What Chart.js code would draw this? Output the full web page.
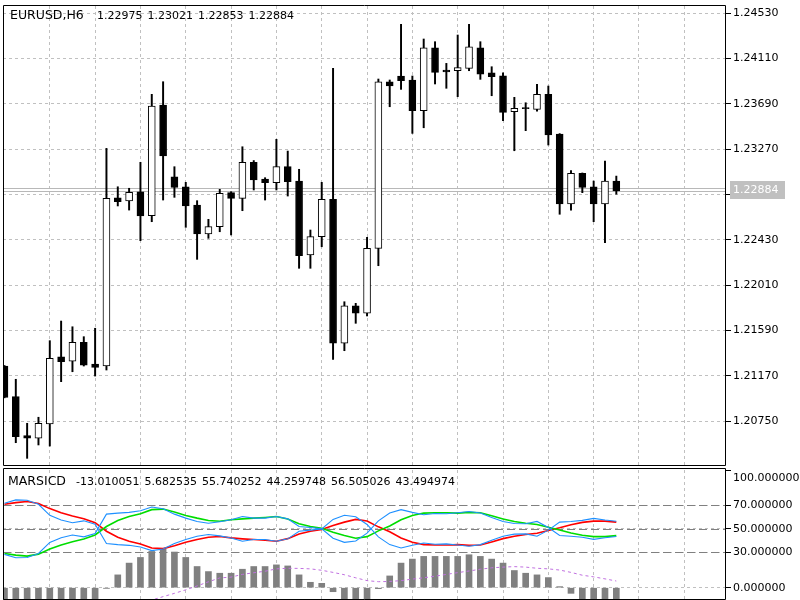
<!DOCTYPE html>
<html>
<head>
<meta charset="utf-8">
<script src="https://cdn.jsdelivr.net/npm/chart.js@4.4.0/dist/chart.umd.min.js"></script>
<style>
  html, body { margin: 0; padding: 0; background: #fff; }
  #wrap { position: relative; width: 800px; height: 600px; overflow: hidden; }
  #main { position: absolute; left: 0; top: 0; }
  #ind { position: absolute; left: 0; top: 466px; }
</style>
</head>
<body>
<div id="wrap">
  <canvas id="main" width="800" height="467" style="width:800px;height:467px"></canvas>
  <canvas id="ind" width="800" height="134" style="width:800px;height:134px"></canvas>
</div>
<script>
const symbolName = 'EURUSD,H6';
const candleOpen = [1.21260, 1.20976, 1.20614, 1.20590, 1.20722, 1.21346, 1.21306, 1.21480, 1.21279, 1.21260,
  1.22820, 1.22790, 1.22876, 1.22654, 1.23680, 1.23015, 1.22922, 1.22753, 1.22484, 1.22552,
  1.22867, 1.22815, 1.23149, 1.22994, 1.22960, 1.23108, 1.22975, 1.22289, 1.22459, 1.22806,
  1.21471, 1.21819, 1.21749, 1.22351, 1.23896, 1.23949, 1.23912, 1.23627, 1.24211, 1.24004,
  1.23998, 1.24020, 1.24211, 1.23979, 1.23951, 1.23618, 1.23649, 1.23640, 1.23779, 1.23411,
  1.22762, 1.23047, 1.22922, 1.22762, 1.22975];
const candleHigh = [1.21265, 1.21137, 1.20729, 1.20785, 1.21495, 1.21677, 1.21624, 1.21532, 1.21610, 1.23278,
  1.22922, 1.22908, 1.23149, 1.23779, 1.23896, 1.23108, 1.22963, 1.22793, 1.22620, 1.22898,
  1.22876, 1.23293, 1.23165, 1.23006, 1.23362, 1.23253, 1.23084, 1.22521, 1.22963, 1.24020,
  1.21856, 1.21841, 1.22453, 1.23921, 1.23912, 1.24428, 1.23949, 1.24292, 1.24267, 1.24066,
  1.24329, 1.24428, 1.24267, 1.24035, 1.23979, 1.23751, 1.23701, 1.23872, 1.23856, 1.23415,
  1.23071, 1.23050, 1.22975, 1.23161, 1.23021];
const candleLow = [1.20965, 1.20549, 1.20404, 1.20528, 1.20518, 1.21115, 1.21207, 1.21260, 1.21167, 1.21223,
  1.22744, 1.22706, 1.22422, 1.22598, 1.22799, 1.22824, 1.22546, 1.22249, 1.22444, 1.22505,
  1.22475, 1.22700, 1.22892, 1.22799, 1.22892, 1.22836, 1.22166, 1.22166, 1.22366, 1.21322,
  1.21402, 1.21656, 1.21724, 1.22190, 1.23664, 1.23825, 1.23417, 1.23469, 1.23875, 1.23835,
  1.23757, 1.23998, 1.23918, 1.23766, 1.23534, 1.23256, 1.23442, 1.23624, 1.23309, 1.22667,
  1.22706, 1.22867, 1.22598, 1.22403, 1.22853];
const candleClose = [1.20970, 1.20605, 1.20590, 1.20729, 1.21332, 1.21300, 1.21480, 1.21269, 1.21248, 1.22815,
  1.22783, 1.22871, 1.22651, 1.23671, 1.23207, 1.22917, 1.22744, 1.22484, 1.22552, 1.22861,
  1.22815, 1.23149, 1.22985, 1.22961, 1.23108, 1.22969, 1.22283, 1.22459, 1.22806, 1.21471,
  1.21819, 1.21749, 1.22351, 1.23896, 1.23856, 1.23905, 1.23627, 1.24211, 1.23983, 1.23986,
  1.24026, 1.24220, 1.23967, 1.23942, 1.23612, 1.23649, 1.23647, 1.23779, 1.23402, 1.22762,
  1.23047, 1.22917, 1.22762, 1.22975, 1.22884];
const priceTicks = [1.24530, 1.24110, 1.23690, 1.23270, 1.22850, 1.22430, 1.22010, 1.21590, 1.21170, 1.20750];

const indicatorName = 'MARSICD';
const indicatorReadout = [-13.010051, 5.682535, 55.740252, 44.259748, 56.505026, 43.494974];
const histValues = [-40, -43, -45, -42, -34, -27, -22, -17, -11.5, -0.6,
  10.9, 20.9, 25.7, 30.8, 32.9, 30.3, 25.7, 18, 13.7, 12.3,
  12.3, 15.7, 18, 18, 19.4, 18.5, 10.9, 4.6, 3.7, -3.4,
  -12, -15, -14, -0.8, 10, 20.9, 24.3, 26.6, 26.6, 26.6,
  26.6, 28, 26.6, 24.3, 20.9, 14.6, 12.3, 10.9, 8.6, 0.9,
  -4.8, -11, -12.5, -13.2, -13.01];
const signalValues = [-25, -28, -30, -32, -33, -33, -32, -31, -29, -26,
  -22, -18, -14, -10.5, -7.6, -4.8, -1.8, 1.5, 5, 8.3,
  9, 11.3, 12.7, 14, 16, 16.5, 16.4, 16, 14.8, 13,
  11, 8.4, 6, 5.1, 5.3, 6, 7.3, 8.4, 9.8, 11.3,
  12.8, 14.2, 15.7, 16.9, 17.5, 17.9, 17.5, 16.5, 16, 15,
  13, 10.6, 9.2, 7.5, 5.68];
const redValues = [70.9, 72.3, 73.2, 71.5, 67.2, 63.7, 60.9, 58.6, 55.2, 48,
  42.9, 39.5, 37.2, 33.7, 33.2, 35.7, 38.6, 40.9, 42.9, 43.5,
  42.3, 41.5, 40.9, 40.3, 39.5, 41.7, 45.7, 48, 49.5, 52.9,
  55.7, 58, 56.6, 51.7, 47.5, 42.3, 38.6, 36.6, 36.3, 36.3,
  36.6, 36, 36.3, 38.9, 41.7, 43.7, 45.2, 46.3, 48.6, 50.9,
  53.5, 55.5, 56.6, 56.6, 55.74];
const greenValues = [29.1, 27.7, 26.8, 28.5, 32.8, 36.3, 39.1, 41.4, 44.8, 52,
  57.1, 60.5, 62.8, 66.3, 66.8, 64.3, 61.4, 59.1, 57.1, 56.5,
  57.7, 58.5, 59.1, 59.7, 60.5, 58.3, 54.3, 52, 50.5, 47.1,
  44.3, 42, 43.4, 48.3, 52.5, 57.7, 61.4, 63.4, 63.7, 63.7,
  63.4, 64, 63.7, 61.1, 58.3, 56.3, 54.8, 53.7, 51.4, 49.1,
  46.5, 44.5, 43.4, 43.4, 44.26];
const blueUpValues = [71.7, 74.6, 74.3, 70.9, 61.5, 57.5, 55.2, 56.8, 54, 37.5,
  36.6, 36, 34.6, 31.5, 32.9, 37.5, 40.9, 43.7, 45.2, 44,
  42.3, 39.5, 40.9, 40.9, 39.5, 41.5, 48, 48.9, 50, 58,
  61.5, 60.3, 53.7, 43.2, 36.6, 33.7, 36, 38, 36.9, 37.2,
  36.3, 35.2, 36.6, 40.3, 43.7, 45.5, 45.7, 43.7, 48.9, 55.7,
  56.3, 57.2, 58.9, 57.5, 56.51];
const blueDnValues = [28.3, 25.4, 25.7, 29.1, 38.5, 42.5, 44.8, 43.2, 46, 62.5,
  63.4, 64, 65.4, 68.5, 67.1, 62.5, 59.1, 56.3, 54.8, 56,
  57.7, 60.5, 59.1, 59.1, 60.5, 58.5, 52, 51.1, 50, 42,
  38.5, 39.7, 46.3, 56.8, 63.4, 66.3, 64, 62, 63.1, 62.8,
  63.7, 64.8, 63.4, 59.7, 56.3, 54.5, 54.3, 56.3, 51.1, 44.3,
  43.7, 42.8, 41.1, 42.5, 43.49];
const levelValues = [70, 50, 30];
const indicatorTicks = [100, 70, 50, 30, 0];

const FONT = '11px "DejaVu Sans"';
const NAME_FONT = '12.5px "DejaVu Sans"';
Chart.defaults.font.family = '"DejaVu Sans"';
Chart.defaults.font.size = 11;
Chart.defaults.animation = false;

const barIndex = candleOpen.map((_, i) => i);
const lastClose = candleClose[candleClose.length - 1];

// time grid: a vertical line every 4 bars
const gridTicks = [];
for (let i = 4; i < 64; i += 4) gridTicks.push(i);

function series(values) {
  return values.map((v, i) => ({ x: i, y: v }));
}

function xAxis() {
  return {
    type: 'linear',
    min: -0.13,
    max: 63.68,
    offset: false,
    ticks: { display: false },
    grid: { color: '#c0c0c0', drawTicks: false, offset: false },
    border: { display: false, dash: [3, 3] },
    afterBuildTicks: s => { s.ticks = gridTicks.map(v => ({ value: v })); },
    afterFit: s => { s.height = 0; s.paddingLeft = 0; s.paddingRight = 0; }
  };
}

function drawTokens(ctx, tokens, x, y) {
  tokens.forEach(t => {
    ctx.fillText(t, x, y);
    x += ctx.measureText(t).width + 5;
  });
}

function drawFrame(ctx, a, topOff) {
  ctx.save();
  ctx.strokeStyle = '#000';
  ctx.lineWidth = 1;
  ctx.beginPath();
  ctx.moveTo(a.left + 0.5, a.bottom - 0.5);
  ctx.lineTo(a.left + 0.5, a.top - topOff);
  ctx.lineTo(a.right - 0.5, a.top - topOff);
  ctx.lineTo(a.right - 0.5, a.bottom - 0.5);
  ctx.lineTo(a.left + 0.5, a.bottom - 0.5);
  ctx.stroke();
  ctx.restore();
}

const mainDecor = {
  id: 'mainDecor',
  beforeDatasetsDraw(chart) {
    const { ctx, chartArea: a, scales: { y } } = chart;
    const py = Math.round(y.getPixelForValue(lastClose));
    ctx.save();
    ctx.strokeStyle = '#b8b8b8';
    ctx.lineWidth = 1;
    [py - 2.5, py + 0.5].forEach(yy => {
      ctx.beginPath();
      ctx.moveTo(a.left, yy);
      ctx.lineTo(a.right, yy);
      ctx.stroke();
    });
    ctx.restore();
  },
  afterDraw(chart) {
    const { ctx, chartArea: a, scales: { y } } = chart;
    drawFrame(ctx, a, 0.5);
    const py = Math.round(y.getPixelForValue(lastClose));
    ctx.save();
    ctx.fillStyle = '#c0c0c0';
    ctx.fillRect(730, py - 10, 55, 18);
    ctx.font = FONT;
    ctx.textBaseline = 'middle';
    ctx.fillStyle = '#fff';
    ctx.fillText(lastClose.toFixed(5), 733, py - 1);
    ctx.fillStyle = '#000';
    const n = candleOpen.length - 1;
    drawTokens(ctx, [candleOpen[n], candleHigh[n], candleLow[n], candleClose[n]].map(v => v.toFixed(5)), 97, 16);
    ctx.font = NAME_FONT;
    ctx.fillText(symbolName, 10, 16);
    ctx.restore();
  }
};

new Chart(document.getElementById('main'), {
  type: 'bar',
  data: {
    datasets: [{
      label: 'body',
      data: barIndex.map(i => ({ x: i, y: [candleOpen[i], candleClose[i]] })),
      backgroundColor: barIndex.map(i => candleClose[i] >= candleOpen[i] ? '#ffffff' : '#000000'),
      borderColor: '#000',
      borderWidth: 1,
      borderSkipped: false,
      barThickness: 7,
      minBarLength: 1,
      grouped: false,
      order: 1
    }, {
      label: 'wick',
      data: barIndex.map(i => ({ x: i, y: [candleLow[i], candleHigh[i]] })),
      backgroundColor: '#000',
      borderWidth: 0,
      barThickness: 1.3,
      grouped: false,
      order: 2
    }]
  },
  options: {
    responsive: false,
    devicePixelRatio: 1,
    events: [],
    layout: { padding: { left: 3, top: 6, right: 0, bottom: 1 } },
    plugins: { legend: { display: false }, tooltip: { enabled: false } },
    scales: {
      x: xAxis(),
      y: {
        position: 'right',
        min: 1.20333,
        max: 1.24598,
        afterBuildTicks: s => { s.ticks = priceTicks.map(v => ({ value: v })); },
        afterFit: s => { s.width = 74; s.paddingTop = 0; s.paddingBottom = 0; },
        ticks: {
          color: '#000',
          padding: 2,
          autoSkip: false,
          callback: v => Math.abs(v - lastClose) < 0.0006 ? '' : v.toFixed(5)
        },
        grid: { color: '#c0c0c0', tickColor: '#000', tickLength: 5 },
        border: { display: false, dash: [3, 3] }
      }
    }
  },
  plugins: [mainDecor]
});

const indDecor = {
  id: 'indDecor',
  beforeDatasetsDraw(chart) {
    const { ctx, chartArea: a, scales: { y } } = chart;
    ctx.save();
    ctx.strokeStyle = '#808080';
    ctx.lineWidth = 1;
    ctx.setLineDash([8, 4]);
    levelValues.forEach(v => {
      const yy = Math.round(y.getPixelForValue(v)) + 0.5;
      ctx.beginPath();
      ctx.moveTo(a.left, yy);
      ctx.lineTo(a.right, yy);
      ctx.stroke();
    });
    ctx.restore();
  },
  afterDraw(chart) {
    const { ctx, chartArea: a, scales: { y } } = chart;
    drawFrame(ctx, a, 1.5);
    ctx.save();
    ctx.font = FONT;
    ctx.textBaseline = 'middle';
    ctx.fillStyle = '#000';
    ctx.fillText(indicatorTicks[0].toFixed(6), 733, y.getPixelForValue(indicatorTicks[0]) + 8);
    drawTokens(ctx, indicatorReadout.map(v => v.toFixed(6)), 76, 16);
    ctx.font = NAME_FONT;
    ctx.fillText(indicatorName, 8, 16);
    ctx.restore();
  }
};

new Chart(document.getElementById('ind'), {
  type: 'bar',
  data: {
    datasets: [{
      type: 'line', label: 'blue up', data: series(blueUpValues),
      borderColor: '#1e90ff', borderWidth: 1.1, pointRadius: 0, tension: 0, order: 1
    }, {
      type: 'line', label: 'blue down', data: series(blueDnValues),
      borderColor: '#1e90ff', borderWidth: 1.1, pointRadius: 0, tension: 0, order: 1
    }, {
      type: 'line', label: 'green', data: series(greenValues),
      borderColor: '#00dd00', borderWidth: 1.6, pointRadius: 0, tension: 0, order: 2
    }, {
      type: 'line', label: 'red', data: series(redValues),
      borderColor: '#ff0000', borderWidth: 1.6, pointRadius: 0, tension: 0, order: 3
    }, {
      type: 'line', label: 'signal', data: series(signalValues),
      borderColor: '#c070e0', borderWidth: 1, borderDash: [3, 3], pointRadius: 0, tension: 0, order: 4
    }, {
      type: 'bar', label: 'hist', data: series(histValues),
      backgroundColor: '#808080', borderWidth: 0, barThickness: 6, grouped: false, order: 5
    }]
  },
  options: {
    responsive: false,
    devicePixelRatio: 1,
    events: [],
    layout: { padding: { left: 3, top: 4, right: 0, bottom: 0 } },
    plugins: { legend: { display: false }, tooltip: { enabled: false } },
    scales: {
      x: xAxis(),
      y: {
        position: 'right',
        min: -10.45,
        max: 100,
        afterBuildTicks: s => { s.ticks = indicatorTicks.map(v => ({ value: v })); },
        afterFit: s => { s.width = 74; s.paddingTop = 0; s.paddingBottom = 0; },
        ticks: {
          color: '#000',
          padding: 2,
          autoSkip: false,
          callback: v => v === indicatorTicks[0] ? '' : v.toFixed(6)
        },
        grid: {
          color: c => (c.tick && c.tick.value === indicatorTicks[0]) ? 'rgba(0,0,0,0)' : '#c0c0c0',
          tickColor: '#000',
          tickLength: 5
        },
        border: { display: false, dash: [3, 3] }
      }
    }
  },
  plugins: [indDecor]
});
</script>
</body>
</html>
